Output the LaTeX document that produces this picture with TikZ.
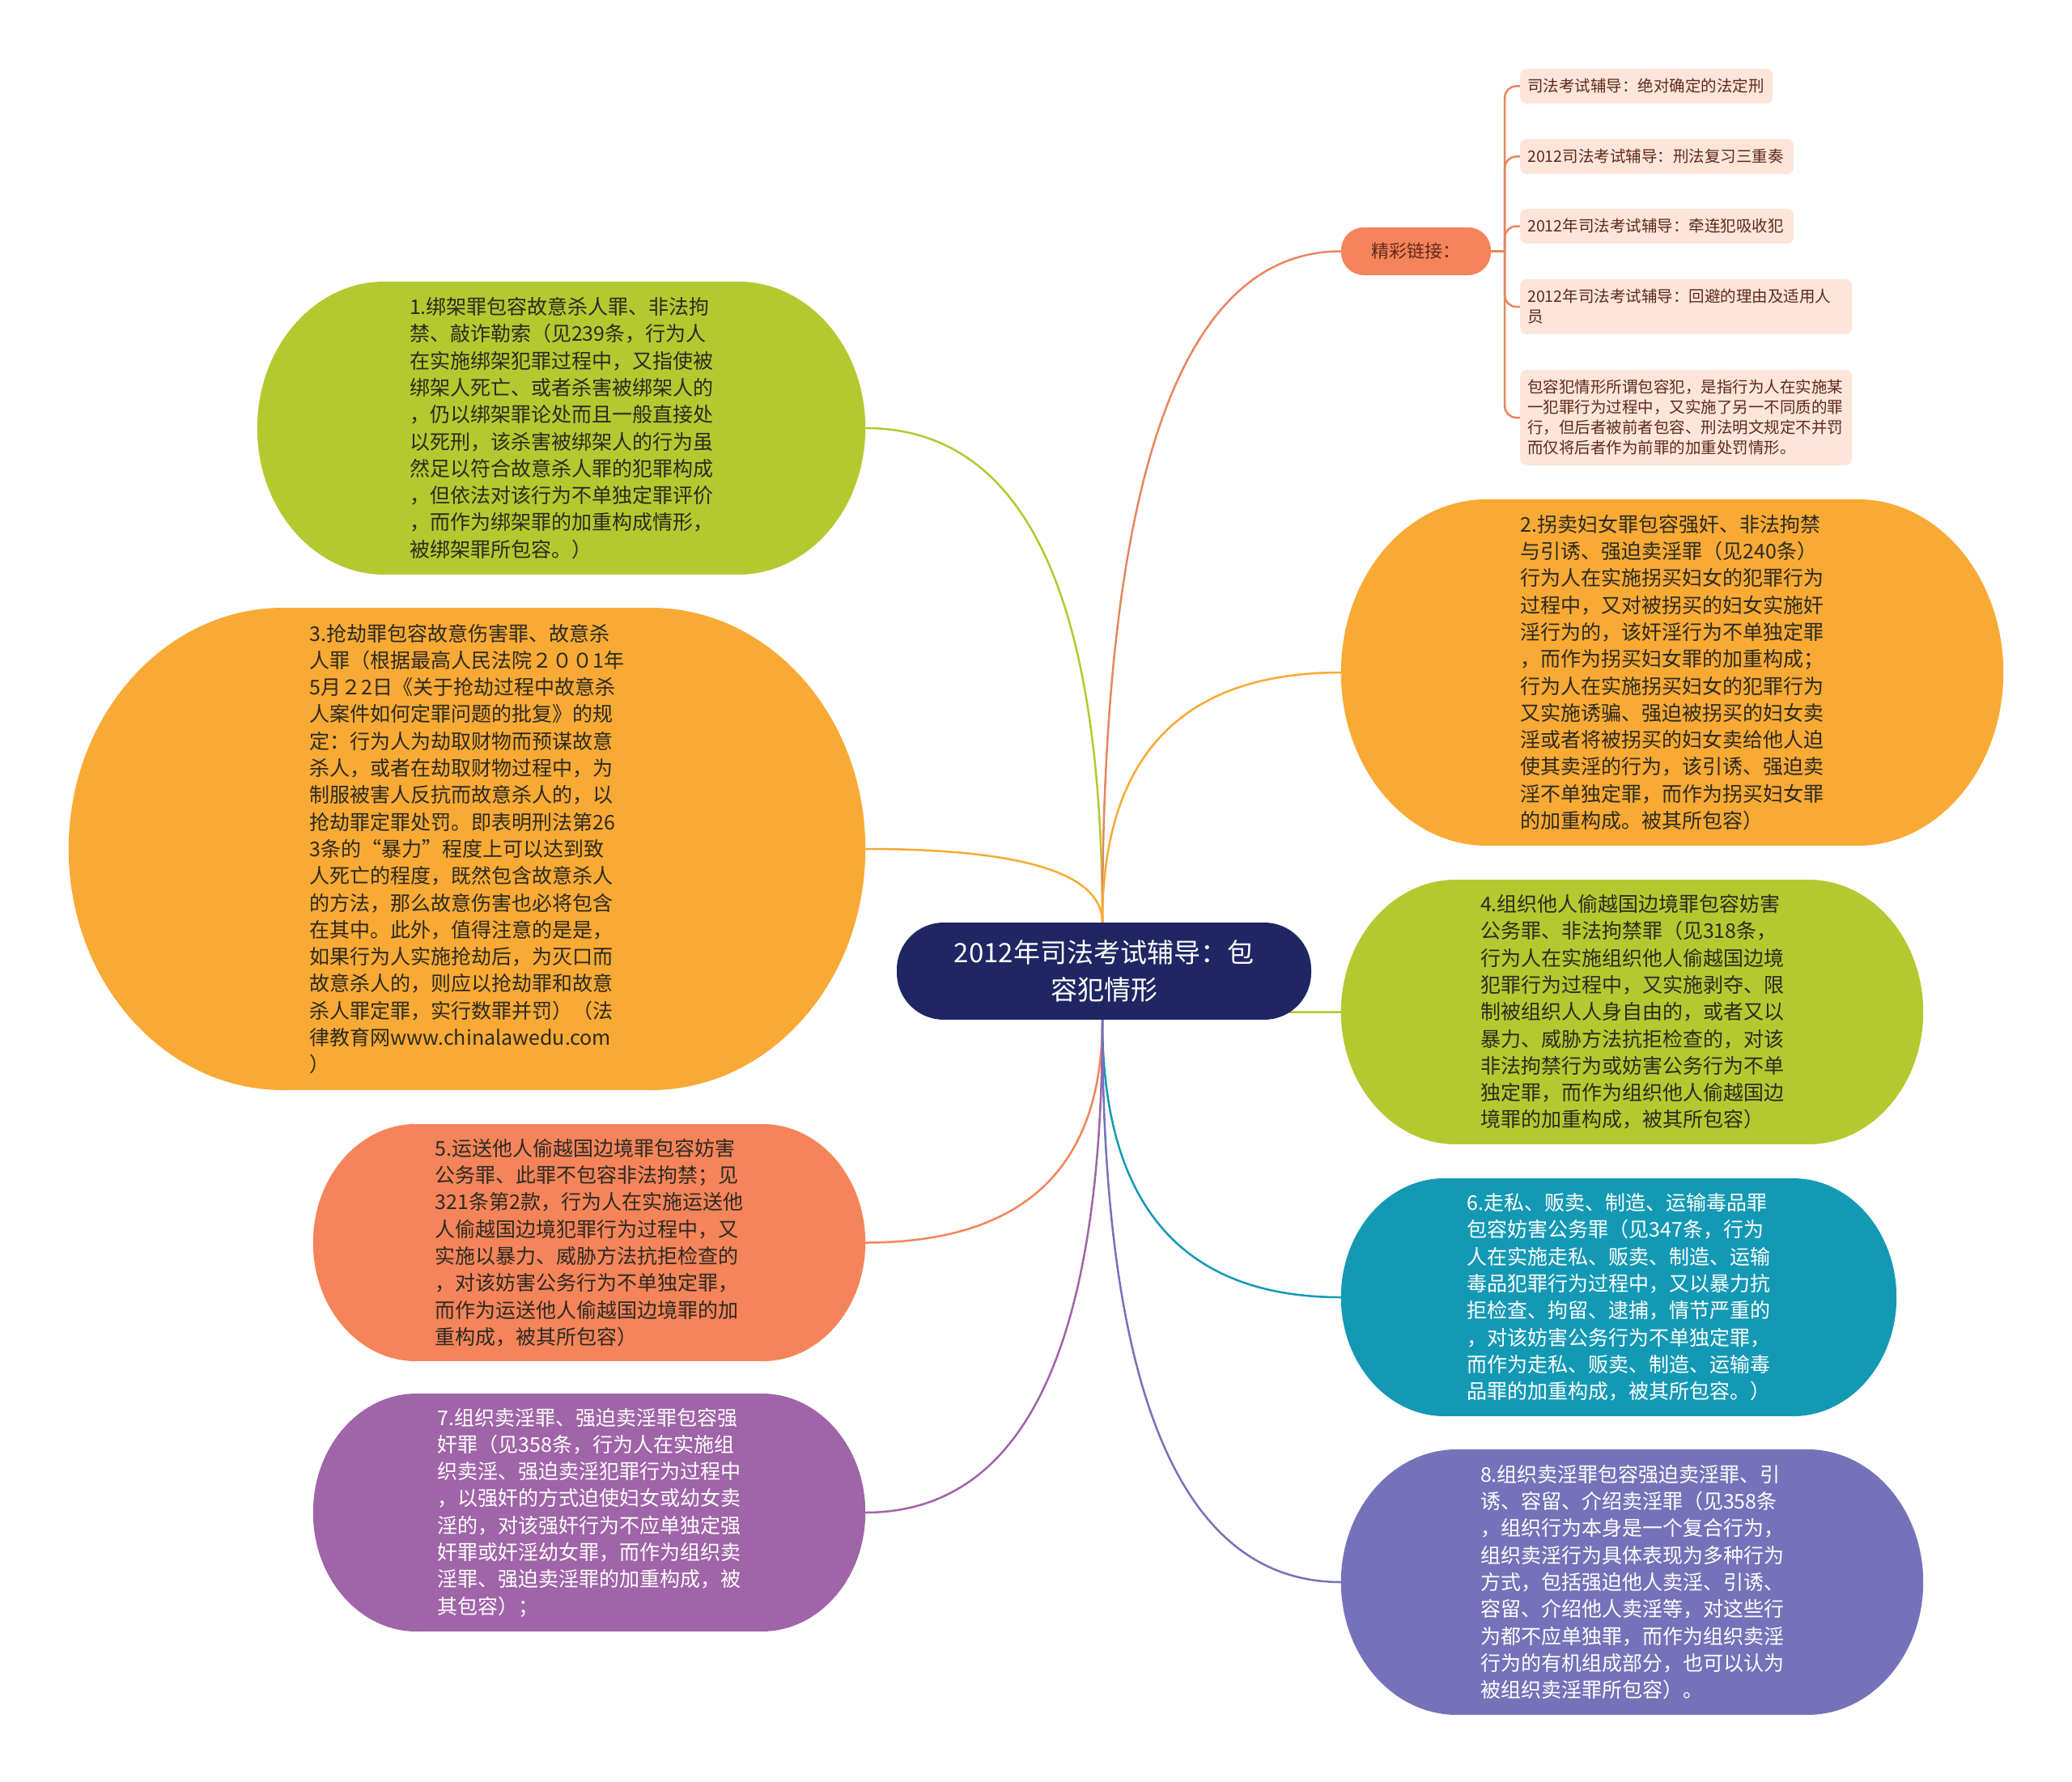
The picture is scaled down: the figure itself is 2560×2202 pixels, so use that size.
\documentclass[tikz,border=0pt]{standalone}
\usepackage{fontspec}
\newfontfamily\cjk{Noto Sans CJK SC}
\usetikzlibrary{calc}
\pgfdeclarelayer{background}
\pgfsetlayers{background,main}

\definecolor{cNavy}{HTML}{1F2663}
\definecolor{cLime}{HTML}{B4C92F}
\definecolor{cOrange}{HTML}{F9AA35}
\definecolor{cCoral}{HTML}{F6845A}
\definecolor{cTeal}{HTML}{1499B5}
\definecolor{cPurple}{HTML}{A064A8}
\definecolor{cViolet}{HTML}{7672B9}
\definecolor{cPeach}{HTML}{FDE5DA}
\definecolor{cLinkText}{HTML}{5E2A1A}
\definecolor{cDark}{HTML}{2A2A22}
\definecolor{cLineCoral}{HTML}{E8865E}

\newcommand\mypill[4]{%
  \fill[#2] ($(#1.north west)+(#3,0)$) rectangle ($(#1.south east)+(-#3,0)$);
  \fill[#2] ($(#1.west)+(#3,0)$) ellipse [x radius=#3, y radius=#4];
  \fill[#2] ($(#1.east)+(-#3,0)$) ellipse [x radius=#3, y radius=#4];
}
% quadratic-like curve from start (#2) to end (#3), corner at (start.x, end.y)
\newcommand\myconn[3]{%
  \draw[conn, #1] (#2) .. controls ($(#2)!0.667!(#2 |- #3)$) and ($(#3)!0.667!(#2 |- #3)$) .. (#3);
}

\tikzset{
  bigtext/.style={font=\cjk\fontsize{25}{33.3}\selectfont, align=left, inner sep=0pt},
  central/.style={fill=cNavy, text=white, font=\cjk\fontsize{33}{45.7}\selectfont,
    align=center, rounded corners=58pt, minimum width=512pt, minimum height=120pt, inner sep=0pt},
  jcbox/.style={fill=cCoral, text=cLinkText, font=\cjk\fontsize{22}{28}\selectfont,
    rounded corners=28pt, minimum width=185pt, minimum height=59pt, inner sep=0pt},
  linkbox/.style={fill=cPeach, text=cLinkText, font=\cjk\fontsize{19.5}{25}\selectfont,
    rounded corners=8pt, align=left, anchor=west, inner xsep=9pt, inner ysep=0pt},
  conn/.style={line width=2.5pt},
  bconn/.style={line width=2.5pt, cLineCoral, rounded corners=14pt}
}

\begin{document}
\begin{tikzpicture}[x=1pt,y=-1pt]
\useasboundingbox (0,0) rectangle (2560,2202);

% central
\node[central] (c) at (1364,1200) {2012年司法考试辅导：包\\容犯情形};
\coordinate (ct) at (1362,1140);
\coordinate (cb) at (1362,1260);

% left nodes
\node[bigtext, text=cDark, minimum width=751pt, minimum height=362pt] (n1) at (693.5,529) {1.绑架罪包容故意杀人罪、非法拘\\禁、敲诈勒索（见239条，行为人\\在实施绑架犯罪过程中，又指使被\\绑架人死亡、或者杀害被绑架人的\\，仍以绑架罪论处而且一般直接处\\以死刑，该杀害被绑架人的行为虽\\然足以符合故意杀人罪的犯罪构成\\，但依法对该行为不单独定罪评价\\，而作为绑架罪的加重构成情形，\\被绑架罪所包容。）};

\node[bigtext, text=cDark, minimum width=984pt, minimum height=596pt] (n3) at (577,1049) {3.抢劫罪包容故意伤害罪、故意杀\\人罪（根据最高人民法院２００1年\\5月２2日《关于抢劫过程中故意杀\\人案件如何定罪问题的批复》的规\\定：行为人为劫取财物而预谋故意\\杀人，或者在劫取财物过程中，为\\制服被害人反抗而故意杀人的，以\\抢劫罪定罪处罚。即表明刑法第26\\3条的“暴力”程度上可以达到致\\人死亡的程度，既然包含故意杀人\\的方法，那么故意伤害也必将包含\\在其中。此外，值得注意的是是，\\如果行为人实施抢劫后，为灭口而\\故意杀人的，则应以抢劫罪和故意\\杀人罪定罪，实行数罪并罚）（法\\律教育网www.chinalawedu.com\\）};

\node[bigtext, text=cDark, minimum width=682pt, minimum height=293pt] (n5) at (728,1535.5) {5.运送他人偷越国边境罪包容妨害\\公务罪、此罪不包容非法拘禁；见\\321条第2款，行为人在实施运送他\\人偷越国边境犯罪行为过程中，又\\实施以暴力、威胁方法抗拒检查的\\，对该妨害公务行为不单独定罪，\\而作为运送他人偷越国边境罪的加\\重构成，被其所包容）};

\node[bigtext, text=white, minimum width=682pt, minimum height=294pt] (n7) at (728,1869) {7.组织卖淫罪、强迫卖淫罪包容强\\奸罪（见358条，行为人在实施组\\织卖淫、强迫卖淫犯罪行为过程中\\，以强奸的方式迫使妇女或幼女卖\\淫的，对该强奸行为不应单独定强\\奸罪或奸淫幼女罪，而作为组织卖\\淫罪、强迫卖淫罪的加重构成，被\\其包容）；};

% right nodes
\node[jcbox] (jc) at (1749.5,310.5) {精彩链接：};

\node[linkbox, text width=294pt, minimum height=43pt] (l1) at (1878,106.5) {司法考试辅导：绝对确定的法定刑};
\node[linkbox, text width=320pt, minimum height=43pt] (l2) at (1878,193.5) {2012司法考试辅导：刑法复习三重奏};
\node[linkbox, text width=320pt, minimum height=43pt] (l3) at (1878,279.5) {2012年司法考试辅导：牵连犯吸收犯};
\node[linkbox, text width=392pt, minimum height=68pt] (l4) at (1878,379) {2012年司法考试辅导：回避的理由及适用人\\员};
\node[linkbox, text width=392pt, minimum height=118pt] (l5) at (1878,516) {包容犯情形所谓包容犯，是指行为人在实施某\\一犯罪行为过程中，又实施了另一不同质的罪\\行，但后者被前者包容、刑法明文规定不并罚\\而仅将后者作为前罪的加重处罚情形。};

\node[bigtext, text=cDark, minimum width=818pt, minimum height=428pt] (n2) at (2066,831) {2.拐卖妇女罪包容强奸、非法拘禁\\与引诱、强迫卖淫罪（见240条）\\行为人在实施拐买妇女的犯罪行为\\过程中，又对被拐买的妇女实施奸\\淫行为的，该奸淫行为不单独定罪\\，而作为拐买妇女罪的加重构成；\\行为人在实施拐买妇女的犯罪行为\\又实施诱骗、强迫被拐买的妇女卖\\淫或者将被拐买的妇女卖给他人迫\\使其卖淫的行为，该引诱、强迫卖\\淫不单独定罪，而作为拐买妇女罪\\的加重构成。被其所包容）};

\node[bigtext, text=cDark, minimum width=719pt, minimum height=327pt] (n4) at (2016.5,1250.5) {4.组织他人偷越国边境罪包容妨害\\公务罪、非法拘禁罪（见318条，\\行为人在实施组织他人偷越国边境\\犯罪行为过程中，又实施剥夺、限\\制被组织人人身自由的，或者又以\\暴力、威胁方法抗拒检查的，对该\\非法拘禁行为或妨害公务行为不单\\独定罪，而作为组织他人偷越国边\\境罪的加重构成，被其所包容）};

\node[bigtext, text=white, minimum width=686pt, minimum height=294pt] (n6) at (2000,1603) {6.走私、贩卖、制造、运输毒品罪\\包容妨害公务罪（见347条，行为\\人在实施走私、贩卖、制造、运输\\毒品犯罪行为过程中，又以暴力抗\\拒检查、拘留、逮捕，情节严重的\\，对该妨害公务行为不单独定罪，\\而作为走私、贩卖、制造、运输毒\\品罪的加重构成，被其所包容。）};

\node[bigtext, text=white, minimum width=719pt, minimum height=328pt] (n8) at (2016.5,1955) {8.组织卖淫罪包容强迫卖淫罪、引\\诱、容留、介绍卖淫罪（见358条\\，组织行为本身是一个复合行为，\\组织卖淫行为具体表现为多种行为\\方式，包括强迫他人卖淫、引诱、\\容留、介绍他人卖淫等，对这些行\\为都不应单独罪，而作为组织卖淫\\行为的有机组成部分，也可以认为\\被组织卖淫罪所包容）。};

\coordinate (jcb) at ($(jc.east)+(17,0)$);

\begin{pgfonlayer}{background}
\fill[white] (0,0) rectangle (2560,2202);
% connectors from centre
\myconn{cLime}{ct}{n1.east}
\myconn{cOrange}{ct}{n3.east}
\myconn{cLineCoral}{ct}{jc.west}
\myconn{cOrange}{ct}{n2.west}
\myconn{cLime}{cb}{n4.west}
\myconn{cCoral}{cb}{n5.east}
\myconn{cTeal}{cb}{n6.west}
\myconn{cPurple}{cb}{n7.east}
\myconn{cViolet}{cb}{n8.west}
% bracket to links
\draw[bconn] (jc.east) -- (jcb);
\draw[bconn] (jcb) |- (l1.west);
\draw[bconn] (jcb) |- (l2.west);
\draw[bconn] (jcb) |- (l3.west);
\draw[bconn] (jcb) |- (l4.west);
\draw[bconn] (jcb) |- (l5.west);
% node shapes
\mypill{n1}{cLime}{157}{181}
\mypill{n3}{cOrange}{265}{298}
\mypill{n5}{cCoral}{127}{146.5}
\mypill{n7}{cPurple}{128}{147}
\mypill{n2}{cOrange}{180}{214}
\mypill{n4}{cLime}{142}{163.5}
\mypill{n6}{cTeal}{128}{147}
\mypill{n8}{cViolet}{143}{164}
\end{pgfonlayer}
\end{tikzpicture}
\end{document}
